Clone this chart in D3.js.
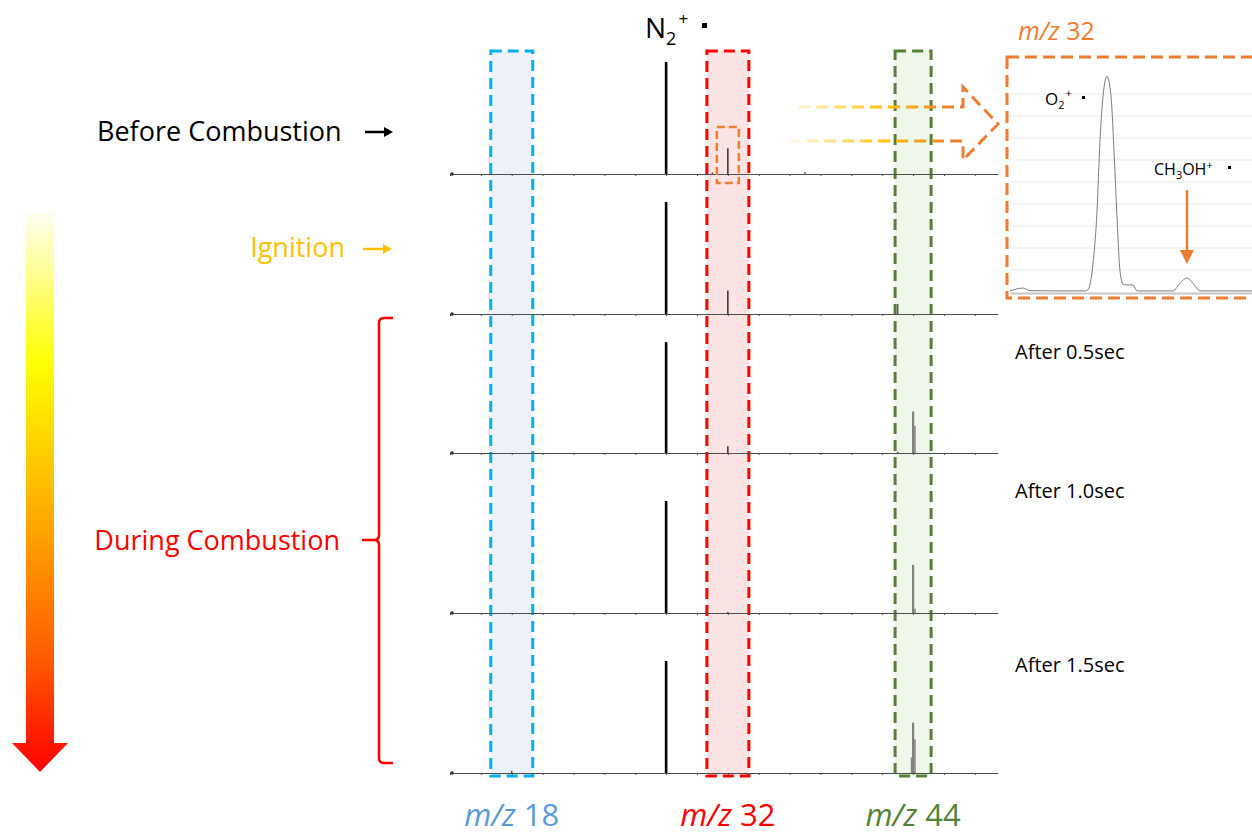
<!DOCTYPE html>
<html lang="en">
<head>
<meta charset="UTF-8">
<title>m/z spectra during combustion</title>
<style>
  body { margin: 0; background: #fff; }
  svg { display: block; font-family: "Open Sans", "Noto Sans", sans-serif; }
  .axis path, .axis line { stroke: #4d4d4d; }
</style>
</head>
<body>
<svg id="chart" width="1252" height="835"></svg>
<script src="https://cdn.jsdelivr.net/npm/d3@7"></script>
<script>
// ---- data ----
var spectraNames = ["Before Combustion", "Ignition", "After 0.5sec", "After 1.0sec", "After 1.5sec"];
var peakMz      = [18, 28, 31, 32, 37, 43, 43.9, 44, 44.12];
var beforeComb  = [0, 100, 1.5, 23, 1.5, 0, 0, 0, 0];
var ignition    = [0, 100, 0, 21, 0, 9, 0, 0, 0];
var after05     = [0, 99, 0, 6, 0, 1, 0, 37, 24];
var after10     = [0, 100, 0, 1, 0, 0, 0, 43, 4];
var after15     = [2, 100, 0, 0, 0, 0, 14, 45, 30];
var spectra = [beforeComb, ignition, after05, after10, after15];
var mzTicks = [14, 16, 18, 20, 22, 24, 26, 28, 30, 32, 34, 36, 38, 40, 42, 44, 46, 48];
var windowMz = [18, 32, 44];
var windowLabels = ["18", "32", "44"];

// zoomed m/z 32 inset
var insetMz  = [31.9460, 31.9519, 31.9550, 31.9685, 31.9798, 31.9811, 31.9834, 31.9852, 31.9865, 31.9879,
                31.9897, 31.9915, 31.9928, 31.9942, 31.9955, 31.9969, 31.9987, 32.0014, 32.0032, 32.0194,
                32.0226, 32.0257, 32.0284, 32.0316, 32.0550];
var insetInt = [0.5, 1.8, 0.6, 0.5, 0.5, 1, 13, 37, 68, 89,
                98, 89, 65, 34, 10, 3.6, 3.2, 3.2, 0.5, 0.5,
                4, 6.4, 4, 0.5, 0.5];
var insetGrid = [10, 20, 30, 40, 50, 60, 70, 80, 90];

// ---- layout ----
var svg = d3.select("#chart");
var rowBase = [174, 314, 453, 613, 773];
var x = d3.scaleLinear().domain([14, 49.5]).range([450, 998]);
var h = d3.scaleLinear().domain([0, 100]).range([0, 112]);

var defs = svg.append("defs");

// big gradient arrow on the left
var vg = defs.append("linearGradient").attr("id", "timeGrad")
  .attr("gradientUnits", "userSpaceOnUse").attr("x1", 0).attr("x2", 0).attr("y1", 213).attr("y2", 772);
[[0, "#fffff2"], [0.1, "#ffff99"], [0.27, "#ffff00"], [0.45, "#ffc800"], [0.6, "#ff9a00"],
 [0.8, "#ff5a00"], [1, "#ff0000"]].forEach(function(s) {
  vg.append("stop").attr("offset", s[0]).attr("stop-color", s[1]);
});
svg.append("path")
  .attr("d", "M26,213 L54,213 L54,743 L68,743 L40,772 L12,743 L26,743 Z")
  .attr("fill", "url(#timeGrad)");

// dashed zoom arrow
var hg = defs.append("linearGradient").attr("id", "zoomGrad")
  .attr("gradientUnits", "userSpaceOnUse").attr("x1", 775).attr("x2", 1000).attr("y1", 0).attr("y2", 0);
[[0, "#ffffff", 0], [0.12, "#fff2cc", 1], [0.5, "#ffc000", 1], [0.8, "#ed7d31", 1], [1, "#ed7d31", 1]].forEach(function(s) {
  hg.append("stop").attr("offset", s[0]).attr("stop-color", s[1]).attr("stop-opacity", s[2]);
});

// m/z windows
var boxes = [
  {mz: 18, half: 21, fill: "#edf2fa", stroke: "#00b0f0", text: "#5b9bd5"},
  {mz: 32, half: 21, fill: "#fde4e4", stroke: "#ff0000", text: "#ff0000"},
  {mz: 44, half: 18, fill: "#eff6ea", stroke: "#548235", text: "#548235"}
];
boxes.forEach(function(b) {
  svg.append("rect")
    .attr("x", x(b.mz) - b.half).attr("y", 51)
    .attr("width", b.half * 2).attr("height", 725)
    .attr("fill", b.fill).attr("stroke", b.stroke)
    .attr("stroke-width", 3).attr("stroke-dasharray", "11,6");
});

// spectra
var peakColor = function(mz) {
  if (mz === 28) return "#000";
  if (mz === 32) return "#3a2a2a";
  if (mz >= 43.5) return "#808080";
  return "#555";
};
var peakWidth = function(mz) {
  if (mz === 28) return 2.6;
  if (mz === 44) return 2.2;
  return 1.5;
};

spectra.forEach(function(vals, i) {
  var base = rowBase[i];
  var g = svg.append("g");
  g.append("g").attr("class", "axis")
    .attr("transform", "translate(0," + base + ")")
    .call(d3.axisBottom(x).tickValues(mzTicks).tickSizeInner(2).tickSizeOuter(0).tickFormat(""))
    .call(function(a) { a.select(".domain").attr("stroke-width", 1.2); });
  g.append("circle").attr("cx", x(14) + 2).attr("cy", base).attr("r", 1.8).attr("fill", "#333");
  g.selectAll("line.peak")
    .data(peakMz.map(function(m, k) { return {mz: m, v: vals[k]}; }).filter(function(d) { return d.v > 0; }))
    .enter().append("line").attr("class", "peak")
    .attr("x1", function(d) { return x(d.mz); })
    .attr("x2", function(d) { return x(d.mz); })
    .attr("y1", base)
    .attr("y2", function(d) { return base - h(d.v); })
    .attr("stroke", function(d) { return peakColor(d.mz); })
    .attr("stroke-width", function(d) { return peakWidth(d.mz); });
});

// small orange box around O2 peak and the dashed arrow to the inset
svg.append("rect")
  .attr("x", x(32) - 11).attr("y", 127).attr("width", 22).attr("height", 56)
  .attr("fill", "none").attr("stroke", "#ed7d31").attr("stroke-width", 2.5).attr("stroke-dasharray", "8,4");
svg.append("path")
  .attr("d", "M780,107 L963,107 L963,87 L998,124 L963,160 L963,141 L780,141")
  .attr("fill", "none").attr("stroke", "url(#zoomGrad)").attr("stroke-width", 3)
  .attr("stroke-dasharray", "12,6");

// N2+ label
var n2 = svg.append("text").attr("x", 645).attr("y", 38).attr("font-size", 28).attr("fill", "#000");
n2.append("tspan").text("N");
n2.append("tspan").attr("font-size", 18).attr("dy", 7).text("2");
n2.append("tspan").attr("font-size", 17).attr("dy", -20).attr("dx", 2).text("+");
svg.append("rect").attr("x", 702).attr("y", 23).attr("width", 5).attr("height", 5).attr("fill", "#000");

// time labels
svg.append("text").attr("x", 97).attr("y", 141).attr("font-size", 27).attr("fill", "#000").text(spectraNames[0]);
svg.append("text").attr("x", 345).attr("y", 257).attr("font-size", 27).attr("text-anchor", "end")
  .attr("fill", "#ffc000").text(spectraNames[1]);
svg.append("text").attr("x", 340).attr("y", 550).attr("font-size", 27).attr("text-anchor", "end")
  .attr("fill", "#ff0000").text("During Combustion");
[2, 3, 4].forEach(function(i) {
  svg.append("text").attr("x", 1015).attr("y", [0, 0, 359, 498, 672][i])
    .attr("font-size", 20).attr("fill", "#000").text(spectraNames[i]);
});

function smallArrow(x1, x2, y, color) {
  svg.append("line").attr("x1", x1).attr("x2", x2 - 6).attr("y1", y).attr("y2", y)
    .attr("stroke", color).attr("stroke-width", 2.5);
  svg.append("path").attr("d", "M" + (x2 - 9) + "," + (y - 5) + " L" + x2 + "," + y + " L" + (x2 - 9) + "," + (y + 5) + " Z")
    .attr("fill", color);
}
smallArrow(365, 393, 132, "#000");
smallArrow(363, 392, 249, "#ffc000");

// brace
svg.append("path")
  .attr("d", "M393,318 L384,318 Q379,318 379,323 L379,535 Q379,540 374,540 L362,540 M374,540 Q379,540 379,545 L379,758 Q379,763 384,763 L393,763")
  .attr("fill", "none").attr("stroke", "#ff0000").attr("stroke-width", 2.5);

// window labels under the spectra
boxes.forEach(function(b, i) {
  var t = svg.append("text").attr("x", x(windowMz[i])).attr("y", 826).attr("text-anchor", "middle")
    .attr("font-size", 31).attr("fill", b.text);
  t.append("tspan").attr("font-style", "italic").text("m/z");
  t.append("tspan").text(" " + windowLabels[i]);
});

// ---- inset ----
var ix = d3.scaleLinear().domain([31.946, 32.055]).range([1010, 1252]);
var iy = d3.scaleLinear().domain([0, 100]).range([292, 72]);
var inset = svg.append("g");
inset.selectAll("line.grid").data(insetGrid).enter().append("line")
  .attr("x1", 1010).attr("x2", 1252)
  .attr("y1", function(d) { return iy(d); }).attr("y2", function(d) { return iy(d); })
  .attr("stroke", "#ebebeb").attr("stroke-width", 1);
inset.append("g")
  .attr("transform", "translate(0," + (iy(0) + 1) + ")")
  .call(d3.axisBottom(ix).ticks(24).tickSizeInner(2).tickSizeOuter(0).tickFormat(""))
  .call(function(a) {
    a.select(".domain").attr("stroke", "#c8c8c8").attr("stroke-width", 2);
    a.selectAll("line").attr("stroke", "#c8c8c8");
  });
inset.append("path")
  .datum(insetMz.map(function(m, k) { return [m, insetInt[k]]; }))
  .attr("d", d3.line().x(function(d) { return ix(d[0]); }).y(function(d) { return iy(d[1]); }).curve(d3.curveMonotoneX))
  .attr("fill", "none").attr("stroke", "#7a7a7a").attr("stroke-width", 1);

inset.append("rect")
  .attr("x", 1007).attr("y", 57).attr("width", 260).attr("height", 241)
  .attr("fill", "none").attr("stroke", "#ed7d31").attr("stroke-width", 3).attr("stroke-dasharray", "12,6");

var it = svg.append("text").attr("x", 1018).attr("y", 40).attr("font-size", 25).attr("fill", "#ed7d31");
it.append("tspan").attr("font-style", "italic").text("m/z");
it.append("tspan").text(" 32");

var o2 = svg.append("text").attr("x", 1045).attr("y", 105).attr("font-size", 17).attr("fill", "#000");
o2.append("tspan").text("O");
o2.append("tspan").attr("font-size", 11).attr("dy", 4).text("2");
o2.append("tspan").attr("font-size", 11).attr("dy", -12).attr("dx", 1).text("+");
svg.append("rect").attr("x", 1082).attr("y", 96).attr("width", 3).attr("height", 3).attr("fill", "#000");

var ch = svg.append("text").attr("x", 1154).attr("y", 175).attr("font-size", 16).attr("fill", "#000");
ch.append("tspan").text("CH");
ch.append("tspan").attr("font-size", 11).attr("dy", 4).text("3");
ch.append("tspan").attr("dy", -4).text("OH");
ch.append("tspan").attr("font-size", 11).attr("dy", -6).text("+");
svg.append("rect").attr("x", 1228).attr("y", 166).attr("width", 3).attr("height", 3).attr("fill", "#000");

svg.append("line").attr("x1", ix(32.0257)).attr("x2", ix(32.0257)).attr("y1", 190).attr("y2", 253)
  .attr("stroke", "#ed7d31").attr("stroke-width", 2.5);
svg.append("path")
  .attr("d", "M" + (ix(32.0257) - 7) + ",250 L" + (ix(32.0257) + 7) + ",250 L" + ix(32.0257) + ",264 Z")
  .attr("fill", "#ed7d31");
</script>
</body>
</html>
